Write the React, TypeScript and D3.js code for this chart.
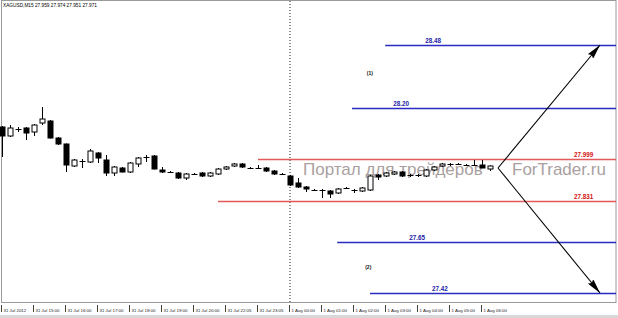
import React from "react";
import * as d3 from "d3";

const title = "XAGUSD,M15  27.959 27.974 27.951 27.971";

const opens = [28.127,28.091,28.118,28.123,28.107,28.143,28.151,28.083,28.059,27.971,27.991,27.987,28.023,27.995,27.943,27.963,27.947,27.979,28.007,28.011,27.955,27.947,27.943,27.923,27.939,27.943,27.931,27.939,27.959,27.971,27.979,27.964,27.963,27.963,27.951,27.939,27.931,27.903,27.887,27.875,27.875,27.871,27.863,27.883,27.875,27.871,27.875,27.935,27.931,27.939,27.947,27.935,27.935,27.931,27.955,27.971,27.979,27.979,27.975,27.975,27.975,27.959];
const highs = [28.131,28.135,28.127,28.127,28.139,28.207,28.155,28.087,28.061,27.999,27.999,28.039,28.027,28.015,27.971,27.967,27.987,28.007,28.015,28.015,27.967,27.951,27.947,27.943,27.943,27.947,27.947,27.963,27.971,27.983,27.983,27.967,27.975,27.967,27.955,27.943,27.935,27.923,27.891,27.879,27.879,27.875,27.883,27.887,27.879,27.887,27.935,27.939,27.947,27.951,27.951,27.939,27.939,27.959,27.971,27.983,27.983,27.983,27.979,27.995,27.995,27.974];
const lows = [28.007,28.087,28.107,28.075,28.091,28.135,28.081,28.055,27.947,27.967,27.963,27.983,27.983,27.931,27.931,27.945,27.943,27.967,27.987,27.957,27.943,27.943,27.919,27.915,27.935,27.927,27.927,27.935,27.955,27.967,27.963,27.959,27.959,27.947,27.935,27.935,27.891,27.883,27.867,27.871,27.843,27.843,27.859,27.879,27.863,27.867,27.871,27.915,27.927,27.935,27.927,27.927,27.927,27.927,27.951,27.967,27.971,27.975,27.971,27.971,27.963,27.951];
const closes = [28.091,28.123,28.120,28.103,28.135,28.159,28.083,28.059,27.975,27.995,27.990,28.031,28.003,27.943,27.967,27.947,27.983,28.003,28.006,27.959,27.947,27.946,27.923,27.939,27.938,27.931,27.943,27.959,27.967,27.979,27.967,27.963,27.962,27.951,27.939,27.938,27.895,27.887,27.879,27.874,27.874,27.859,27.879,27.882,27.874,27.883,27.931,27.927,27.943,27.947,27.931,27.934,27.934,27.955,27.967,27.979,27.978,27.978,27.974,27.974,27.963,27.971];

const timeLabels = ["31 Jul 2012","31 Jul 15:00","31 Jul 16:00","31 Jul 17:00","31 Jul 18:00","31 Jul 19:00","31 Jul 20:00","31 Jul 22:05","31 Jul 23:05","1 Aug 00:00","1 Aug 01:00","1 Aug 02:00","1 Aug 03:00","1 Aug 04:00","1 Aug 05:00","1 Aug 06:00"];
const barsPerLabel = 4;

// horizontal levels (price where drawn, label text, anchor bar index, label bar index)
const levelPrices = [28.455, 28.203, 27.999, 27.831, 27.667, 27.463];
const levelTexts = ["28.48", "28.20", "27.999", "27.831", "27.65", "27.42"];
const levelKinds = ["target", "target", "range", "range", "target", "target"];
const levelStart = [47.9, 43.75, 32, 27, 41.9, 46];
const levelLabelAt = [52.9, 48.9, 71.5, 71.5, 50.9, 53.75];

const waveTexts = ["(1)", "(2)"];
const waveAt = [45.6, 45.4];
const wavePrices = [28.335, 27.559];

const arrowFromBar = 62;
const arrowFromPrice = 27.963;
const arrowToBar = [74.75, 74.75];
const arrowToPrice = [28.455, 27.463];

const sessionBreakBar = 36;
const watermark = "Портал для трейдеров";
const watermark2 = "ForTrader.ru";

const W = 618, H = 318;
const plotBottom = 302;

export default function App() {
  const x = d3.scaleLinear().domain([0, 77]).range([2, 618]);
  const y = d3.scaleLinear().domain([27.463, 28.455]).range([293, 45]);
  const bw = 5;

  return (
    <svg width={W} height={H} style={{ position: "fixed", left: 0, top: 0, background: "#fff" }}
      fontFamily="'Liberation Sans', Arial, sans-serif">
      <rect x={0} y={0} width={W} height={H} fill="#fff" />
      {/* frame */}
      <rect x={1.5} y={0.5} width={614.5} height={plotBottom} fill="none" stroke="#9a9a9a" strokeWidth={1} />
      <rect x={0} y={315} width={W} height={3} fill="#d8d8d8" />

      {/* watermark */}
      <text x={303} y={175} fontSize={17} fill="#aa9f9f">{watermark}</text>
      <text x={512} y={175} fontSize={17} fill="#aa9f9f">{watermark2}</text>

      {/* session break */}
      <line x1={x(sessionBreakBar)} x2={x(sessionBreakBar)} y1={1} y2={plotBottom}
        stroke="#222" strokeWidth={1} strokeDasharray="1,2" />

      {/* levels */}
      {levelPrices.map((p, i) => {
        const ly = Math.round(y(p)) + 0.5;
        const red = levelKinds[i] === "range";
        return (
          <g key={"lv" + i}>
            <line x1={x(levelStart[i])} x2={616} y1={ly} y2={ly}
              stroke={red ? "#e25a5a" : "#2a2ac4"} strokeWidth={red ? 1.6 : 1.4} />
            <text x={x(levelLabelAt[i])} y={ly - 3} fontSize={6.3} fontWeight="bold"
              fill={red ? "#d01010" : "#1c1ca8"}>{levelTexts[i]}</text>
          </g>
        );
      })}

      {waveTexts.map((t, i) => (
        <text key={"w" + i} x={x(waveAt[i])} y={y(wavePrices[i])} fontSize={5} fontWeight="bold" fill="#111">{t}</text>
      ))}

      {/* candles */}
      {opens.map((o, i) => {
        const c = closes[i];
        const cx = Math.round(x(i)) + 0.5;
        const top = y(Math.max(o, c));
        const bot = y(Math.min(o, c));
        const bull = c > o;
        const h = bot - top;
        return (
          <g key={"c" + i}>
            <line x1={cx} x2={cx} y1={y(highs[i])} y2={y(lows[i])} stroke="#000" strokeWidth={1} />
            {h < 1 ? (
              <line x1={cx - bw / 2 - 0.5} x2={cx + bw / 2 + 0.5} y1={Math.round(top) + 0.5} y2={Math.round(top) + 0.5} stroke="#000" strokeWidth={1} />
            ) : (
              <rect x={cx - bw / 2} y={top} width={bw} height={h}
                fill={bull ? "#fff" : "#000"} stroke="#000" strokeWidth={1} />
            )}
          </g>
        );
      })}

      {/* arrows */}
      <defs>
        <marker id="ah" viewBox="0 0 15 7" refX={15} refY={3.5} markerWidth={15} markerHeight={7}
          markerUnits="userSpaceOnUse" orient="auto">
          <path d="M0,0 L15,3.5 L0,7 L2,3.5 Z" fill="#000" />
        </marker>
      </defs>
      {arrowToBar.map((b, i) => (
        <line key={"a" + i} x1={x(arrowFromBar)} y1={y(arrowFromPrice)} x2={x(b)} y2={y(arrowToPrice[i])}
          stroke="#000" strokeWidth={1.1} markerEnd="url(#ah)" />
      ))}

      {/* title */}
      <text x={3} y={7} fontSize={5} fill="#000" textLength={94} lengthAdjust="spacingAndGlyphs">{title}</text>

      {/* time axis */}
      {timeLabels.map((t, k) => {
        const tx = Math.round(x(k * barsPerLabel)) - 0.5;
        return (
          <g key={"t" + k}>
            <line x1={tx} x2={tx} y1={plotBottom + 3} y2={plotBottom + 10} stroke="#444" strokeWidth={1} />
            <text x={tx + 2} y={plotBottom + 10} fontSize={4.4} fill="#222">{t}</text>
          </g>
        );
      })}
    </svg>
  );
}
